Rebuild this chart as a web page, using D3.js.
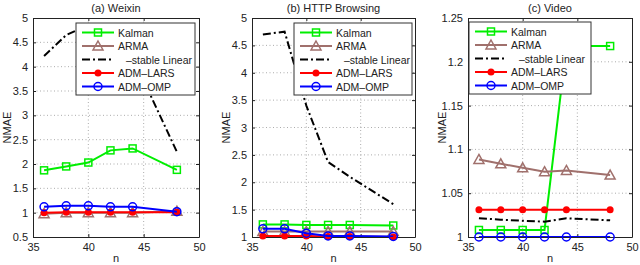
<!DOCTYPE html>
<html>
<head>
<meta charset="utf-8">
<script src="https://cdn.jsdelivr.net/npm/d3@7"></script>
<style>
  body { margin: 0; background: #fff; }
  svg { font-family: "Liberation Sans", Arial, sans-serif; }
</style>
</head>
<body>
<svg id="chart" width="640" height="265"></svg>
<script>
// x values shared by every panel
let nValues = [36, 38, 40, 42, 44, 48];

let seriesNames = ['Kalman', 'ARMA', '–stable Linear', 'ADM–LARS', 'ADM–OMP'];
let panelTitles = ['(a) Weixin', '(b) HTTP Browsing', '(c) Video'];

// (a) Weixin
let kalmanA = [1.87, 1.95, 2.03, 2.28, 2.32, 1.88];
let armaA   = [0.98, 1.0, 1.0, 1.0, 1.0, 1.03];
let stableA = [4.22, 4.65, 4.85, 4.75, 4.2, 2.25];
let larsA   = [1.0, 1.01, 1.01, 1.01, 1.01, 1.01];
let ompA    = [1.12, 1.14, 1.14, 1.12, 1.12, 1.02];

// (b) HTTP Browsing
let kalmanB = [1.23, 1.23, 1.22, 1.22, 1.22, 1.21];
let armaB   = [1.1, 1.1, 1.1, 1.1, 1.1, 1.1];
let stableB = [4.7, 4.75, 3.4, 2.37, 2.1, 1.6];
let larsB   = [1.02, 1.02, 1.02, 1.01, 1.01, 1.0];
let ompB    = [1.15, 1.15, 1.07, 1.02, 1.02, 1.01];

// (c) Video
let kalmanC = [1.008, 1.008, 1.008, 1.008, 1.218, 1.218];
let armaC   = [1.0885, 1.0836, 1.079, 1.0745, 1.076, 1.0707];
let stableC = [1.0213, 1.0198, 1.0186, 1.0175, 1.0213, 1.019];
let larsC   = [1.031, 1.031, 1.031, 1.031, 1.031, 1.031];
let ompC    = [1.0, 1.0, 1.0, 1.0, 1.0, 1.0];

let xTicks = [35, 40, 45, 50];
let yTicksA = [0.5, 1, 1.5, 2, 2.5, 3, 3.5, 4, 4.5, 5];
let yTicksB = [1, 1.5, 2, 2.5, 3, 3.5, 4, 4.5, 5];
let yTicksC = [1, 1.05, 1.1, 1.15, 1.2, 1.25];

let styles = [
  { color: '#00ee00', marker: 'square', dash: null },
  { color: '#a0706c', marker: 'triangle', dash: null },
  { color: '#000000', marker: 'none', dash: '8,3,2,3' },
  { color: '#ff0000', marker: 'dot', dash: null },
  { color: '#0000ff', marker: 'circle', dash: null }
];

let panels = [
  { left: 33, right: 199, title: panelTitles[0], yDomain: [0.5, 5], yTicks: yTicksA, fmt: d3.format('~g'),
    series: [kalmanA, armaA, stableA, larsA, ompA], legend: { x: 76, y: 23, w: 119 } },
  { left: 252, right: 415, title: panelTitles[1], yDomain: [1, 5], yTicks: yTicksB, fmt: d3.format('~g'),
    series: [kalmanB, armaB, stableB, larsB, ompB], legend: { x: 294, y: 23, w: 118 } },
  { left: 468, right: 632, title: panelTitles[2], yDomain: [1, 1.25], yTicks: yTicksC, fmt: d3.format('~g'),
    series: [kalmanC, armaC, stableC, larsC, ompC], legend: { x: 469, y: 22, w: 122 } }
];

let plotTop = 18, plotBottom = 237;
let svg = d3.select('#chart');

function drawMarker(g, type, x, y, color) {
  if (type === 'square') {
    g.append('rect').attr('x', x - 3.5).attr('y', y - 3.5).attr('width', 7).attr('height', 7)
      .attr('fill', 'none').attr('stroke', color).attr('stroke-width', 1.5);
  } else if (type === 'triangle') {
    g.append('path').attr('d', `M${x},${y - 5}L${x + 5},${y + 4}L${x - 5},${y + 4}Z`)
      .attr('fill', 'none').attr('stroke', color).attr('stroke-width', 1.5);
  } else if (type === 'dot') {
    g.append('circle').attr('cx', x).attr('cy', y).attr('r', 3.5).attr('fill', color);
  } else if (type === 'circle') {
    g.append('circle').attr('cx', x).attr('cy', y).attr('r', 4)
      .attr('fill', 'none').attr('stroke', color).attr('stroke-width', 1.5);
  }
}

panels.forEach((p, pi) => {
  let xScale = d3.scaleLinear().domain([35, 50]).range([p.left, p.right]);
  let yScale = d3.scaleLinear().domain(p.yDomain).range([plotBottom, plotTop]);
  let g = svg.append('g');

  // grid
  g.selectAll('.gx').data(xTicks.slice(1, -1)).enter().append('line')
    .attr('x1', d => xScale(d)).attr('x2', d => xScale(d)).attr('y1', plotTop).attr('y2', plotBottom)
    .attr('stroke', '#888').attr('stroke-width', 0.7).attr('stroke-dasharray', '1,2.5');
  g.selectAll('.gy').data(p.yTicks.slice(1, -1)).enter().append('line')
    .attr('y1', d => yScale(d)).attr('y2', d => yScale(d)).attr('x1', p.left).attr('x2', p.right)
    .attr('stroke', '#888').attr('stroke-width', 0.7).attr('stroke-dasharray', '1,2.5');

  // axes
  let axB = d3.axisBottom(xScale).tickValues(xTicks).tickSizeInner(-3).tickSizeOuter(0).tickPadding(6);
  let axT = d3.axisTop(xScale).tickValues(xTicks).tickSizeInner(-3).tickSizeOuter(0).tickFormat('');
  let axL = d3.axisLeft(yScale).tickValues(p.yTicks).tickSizeInner(-3).tickSizeOuter(0).tickPadding(5).tickFormat(p.fmt);
  let axR = d3.axisRight(yScale).tickValues(p.yTicks).tickSizeInner(-3).tickSizeOuter(0).tickFormat('');
  [[axB, `translate(0,${plotBottom})`], [axT, `translate(0,${plotTop})`],
   [axL, `translate(${p.left},0)`], [axR, `translate(${p.right},0)`]].forEach(([ax, tr]) => {
    let a = g.append('g').attr('transform', tr).call(ax);
    a.select('.domain').attr('stroke', '#222');
    a.selectAll('.tick line').attr('stroke', '#222');
    a.selectAll('text').attr('font-size', 11).attr('fill', '#222')
      .attr('font-family', '"Liberation Sans", Arial, sans-serif');
  });

  // labels
  g.append('text').attr('x', (p.left + p.right) / 2).attr('y', 12).attr('text-anchor', 'middle')
    .attr('font-size', 11).attr('fill', '#222').text(p.title);
  g.append('text').attr('x', (p.left + p.right) / 2).attr('y', 262).attr('text-anchor', 'middle')
    .attr('font-size', 11).attr('fill', '#222').text('n');
  g.append('text').attr('transform', `translate(${p.left - 22},${(plotTop + plotBottom) / 2}) rotate(-90)`)
    .attr('text-anchor', 'middle').attr('font-size', 11).attr('fill', '#222').text('NMAE');

  // clip for lines
  let clipId = 'clip' + pi;
  svg.append('clipPath').attr('id', clipId).append('rect')
    .attr('x', p.left).attr('y', plotTop).attr('width', p.right - p.left).attr('height', plotBottom - plotTop);

  let line = d3.line().x((d, i) => xScale(nValues[i])).y(d => yScale(d));
  let plot = g.append('g');
  p.series.forEach((vals, si) => {
    let st = styles[si];
    plot.append('path').attr('d', line(vals)).attr('clip-path', `url(#${clipId})`)
      .attr('fill', 'none').attr('stroke', st.color).attr('stroke-width', 2)
      .attr('stroke-dasharray', st.dash);
    vals.forEach((v, i) => {
      if (v >= p.yDomain[0] && v <= p.yDomain[1]) drawMarker(plot, st.marker, xScale(nValues[i]), yScale(v), st.color);
    });
  });

  // legend
  let L = p.legend;
  let lg = g.append('g').attr('transform', `translate(${L.x},${L.y})`);
  lg.append('rect').attr('width', L.w).attr('height', 72).attr('fill', '#fff').attr('stroke', '#333').attr('stroke-width', 1);
  seriesNames.forEach((name, si) => {
    let st = styles[si];
    let cy = 9.5 + si * 13.5;
    lg.append('line').attr('x1', 6).attr('x2', 38).attr('y1', cy).attr('y2', cy)
      .attr('stroke', st.color).attr('stroke-width', 2).attr('stroke-dasharray', st.dash);
    drawMarker(lg, st.marker, 22, cy, st.color);
    lg.append('text').attr('x', si === 2 ? 50 : 42).attr('y', cy + 4).attr('font-size', 10.5)
      .attr('fill', '#222').text(name);
  });
});
</script>
</body>
</html>
